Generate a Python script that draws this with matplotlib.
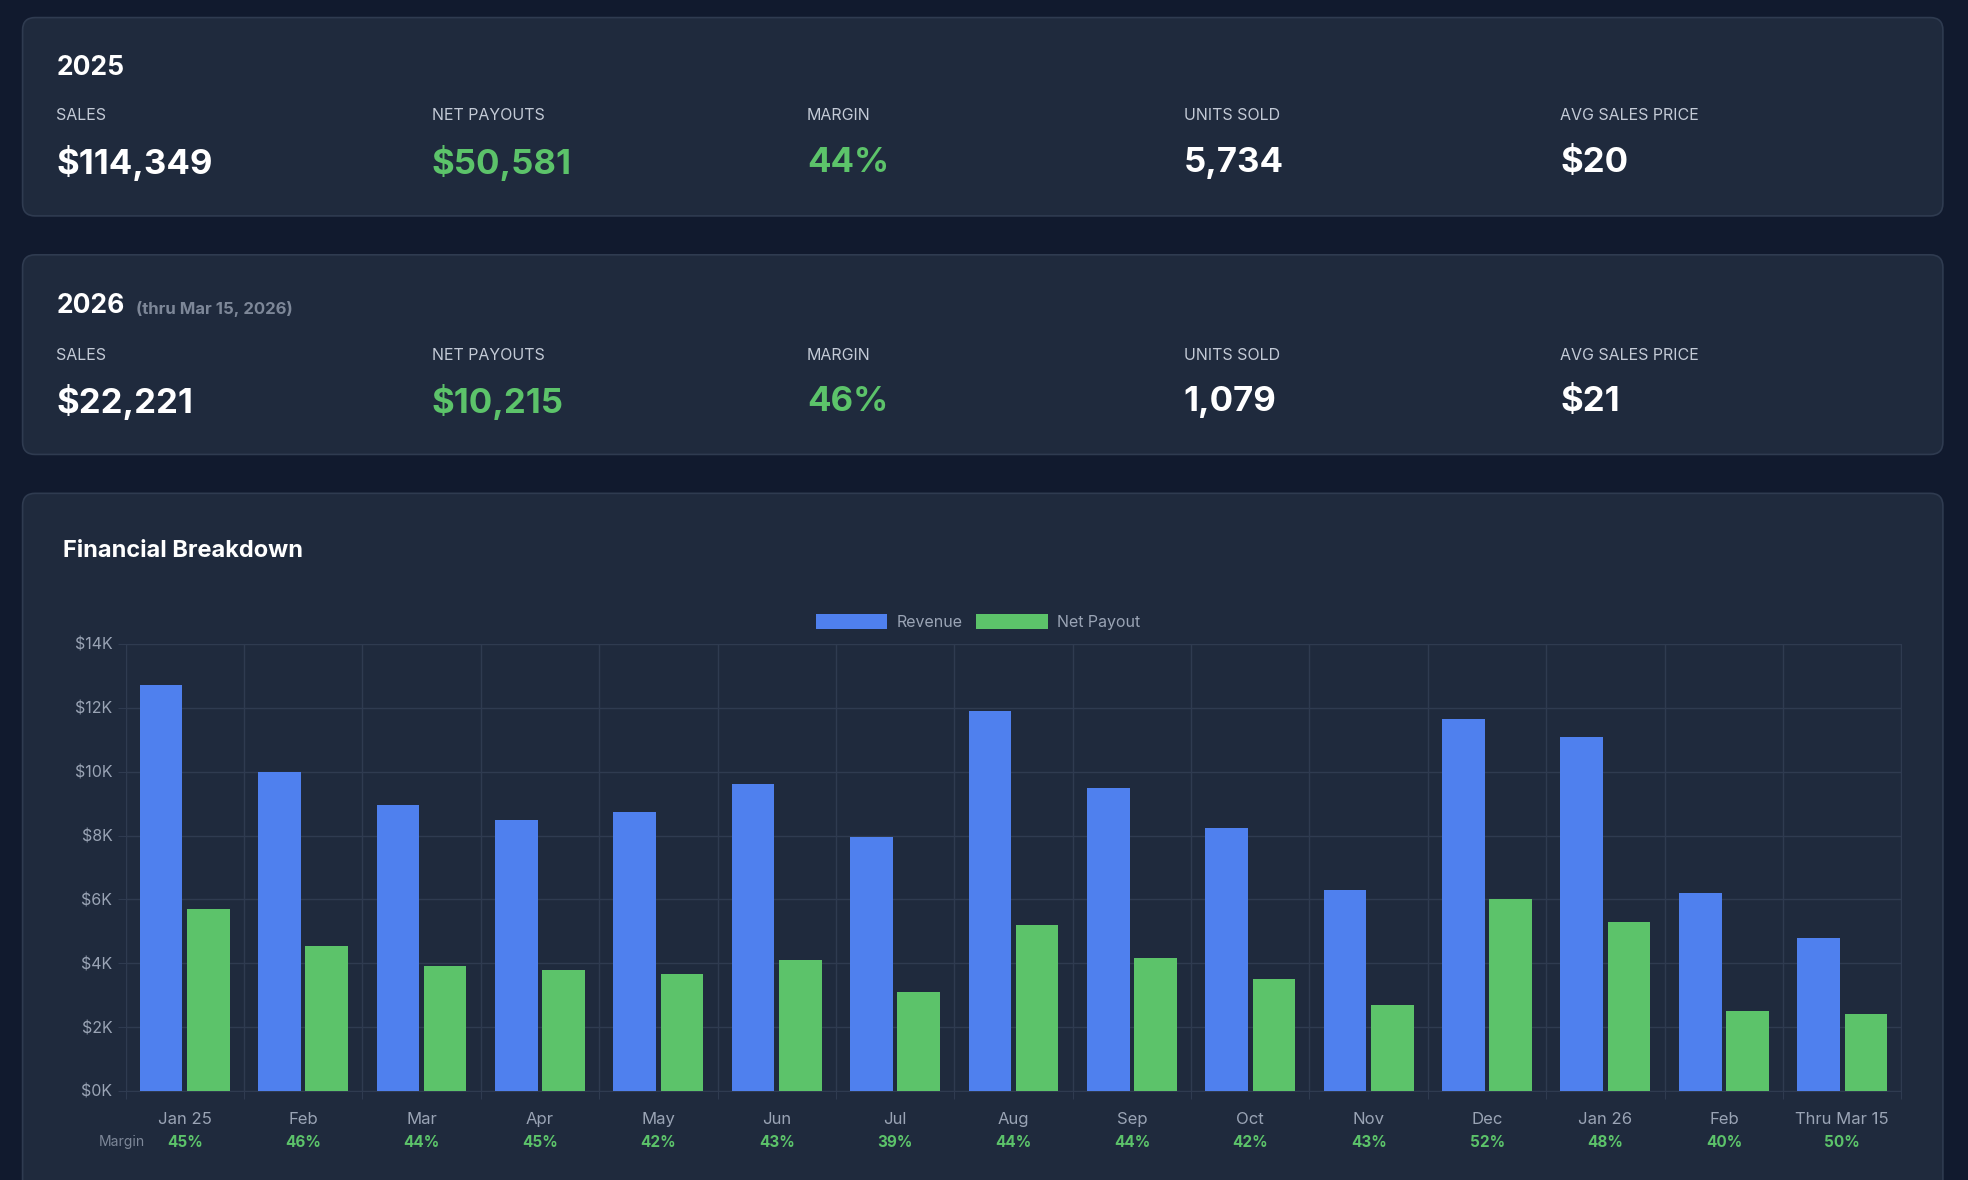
import matplotlib.pyplot as plt
from matplotlib.patches import FancyBboxPatch
from matplotlib.transforms import blended_transform_factory
import numpy as np

plt.rcParams['font.family'] = ['Inter', 'DejaVu Sans']

months = ['Jan 25', 'Feb', 'Mar', 'Apr', 'May', 'Jun', 'Jul', 'Aug', 'Sep', 'Oct',
          'Nov', 'Dec', 'Jan 26', 'Feb', 'Thru Mar 15']
revenue = [12.7, 10.0, 8.95, 8.5, 8.75, 9.6, 7.95, 11.9, 9.5, 8.25, 6.3, 11.65, 11.1, 6.2, 4.8]
payout = [5.7, 4.55, 3.9, 3.8, 3.65, 4.1, 3.1, 5.2, 4.15, 3.5, 2.7, 6.0, 5.3, 2.5, 2.4]
margins = ['45%', '46%', '44%', '45%', '42%', '43%', '39%', '44%', '44%', '42%',
           '43%', '52%', '48%', '40%', '50%']

kpi_labels = ['SALES', 'NET PAYOUTS', 'MARGIN', 'UNITS SOLD', 'AVG SALES PRICE']
kpi_2025 = ['$114,349', '$50,581', '44%', '5,734', '$20']
kpi_2026 = ['$22,221', '$10,215', '46%', '1,079', '$21']
kpi_green = [False, True, True, False, False]

BG = '#111a2e'
CARD = '#1f2a3d'
EDGE = '#2f3b50'
BLUE = '#4f80ee'
GREEN = '#5cc36a'
MUTED = '#9aa4b5'

fig = plt.figure(figsize=(19.68, 11.8), dpi=100, facecolor=BG)
ov = fig.add_axes([0, 0, 1, 1])
ov.set_xlim(0, 1568)
ov.set_ylim(940, 0)
ov.axis('off')
ov.set_facecolor('none')

for y0, y1 in [(14, 172), (203, 362), (393, 960)]:
    ov.add_patch(FancyBboxPatch((18, y0), 1530, y1 - y0, boxstyle='round,pad=0,rounding_size=10',
                                fc=CARD, ec=EDGE, lw=1.2))

xs = [45, 344, 643, 943, 1243]


def kpi_row(title_y, lab_y, val_y, vals):
    for x, lab, v, g in zip(xs, kpi_labels, vals, kpi_green):
        ov.text(x, lab_y, lab, color='#c3cad6', fontsize=11.5, va='center', ha='left')
        ov.text(x, val_y, v, color=GREEN if g else 'white', fontsize=25, fontweight='bold',
                va='center', ha='left')


ov.text(45, 54, '2025', color='white', fontsize=19, fontweight='bold', va='center')
kpi_row(54, 92, 130, kpi_2025)
ov.text(45, 244, '2026', color='white', fontsize=19, fontweight='bold', va='center')
ov.text(108, 246, '(thru Mar 15, 2026)', color='#7d8798', fontsize=12, fontweight='bold', va='center')
kpi_row(244, 283, 320, kpi_2026)
ov.text(50, 439, 'Financial Breakdown', color='white', fontsize=17, fontweight='bold', va='center')

ax = fig.add_axes([100 / 1568, 1 - 869 / 940, 1415 / 1568, 356 / 940])
ax.set_facecolor('none')
x = np.arange(len(months))
ax.bar(x - 0.2, revenue, width=0.36, color=BLUE, label='Revenue', zorder=3)
ax.bar(x + 0.2, payout, width=0.36, color=GREEN, label='Net Payout', zorder=3)
ax.set_xlim(-0.5, len(months) - 0.5)
ax.set_ylim(0, 14)
ax.set_yticks(range(0, 15, 2))
ax.set_yticklabels([f'${v}K' for v in range(0, 15, 2)], color=MUTED, fontsize=11.5)
ax.set_xticks(np.arange(len(months) + 1) - 0.5, minor=False)
ax.set_xticklabels([])
ax.tick_params(axis='x', length=6, color=EDGE)
ax.tick_params(axis='y', length=6, color=EDGE)
ax.grid(True, color=EDGE, lw=1, zorder=0)
for s in ax.spines.values():
    s.set_color(EDGE)

tr = blended_transform_factory(ax.transData, ov.transData)
for i, (m, mg) in enumerate(zip(months, margins)):
    ov.text(i, 892, m, transform=tr, color=MUTED, fontsize=12, ha='center', va='center')
    ov.text(i, 910, mg, transform=tr, color=GREEN, fontsize=11, fontweight='bold',
            ha='center', va='center')
ov.text(97, 910, 'Margin', color='#7d8798', fontsize=10, ha='center', va='center')

ax.legend(loc='lower center', bbox_to_anchor=(0.48, 1.0), ncol=2, frameon=False,
          handlelength=4.5, handleheight=1.1, columnspacing=0.8, handletextpad=0.6,
          labelcolor=MUTED, fontsize=11.5)

fig.savefig('out.png', dpi=100, facecolor=BG)
